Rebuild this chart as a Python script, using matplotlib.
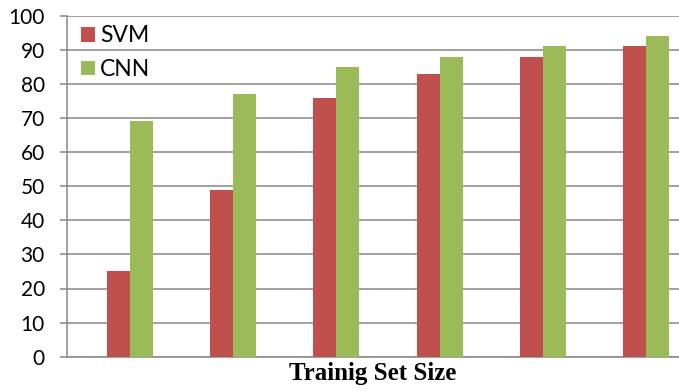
import matplotlib
matplotlib.use("Agg")
import matplotlib.pyplot as plt
import numpy as np

# Accuracy by training-set size
groups = ["1", "2", "3", "4", "5", "6"]
svm = [25, 49, 76, 83, 88, 91]
cnn = [69, 77, 85, 88, 91, 94]
series_names = ["SVM", "CNN"]
yticks = [0, 10, 20, 30, 40, 50, 60, 70, 80, 90, 100]

W, H = 679, 391
fig = plt.figure(figsize=(W / 100, H / 100), dpi=100)
ax = fig.add_axes([67 / W, (H - 356.7) / H, (679 - 67) / W, (356.7 - 15.7) / H])

grid_col = "#878787"
x = np.arange(len(groups))
bw = 0.223
ax.bar(x - bw / 2, svm, bw, color="#C0504D", label=series_names[0], zorder=3)
ax.bar(x + bw / 2, cnn, bw, color="#9BBB59", label=series_names[1], zorder=3)

ax.set_xlim(-0.61, 5.32)
ax.set_ylim(0, 100)
ax.set_yticks(yticks)
ax.set_xticks([])
ax.yaxis.grid(True, color=grid_col, linewidth=1.1, zorder=0)
ax.set_axisbelow(True)

for s in ["top", "right"]:
    ax.spines[s].set_visible(False)
for s in ["left", "bottom"]:
    ax.spines[s].set_color(grid_col)
    ax.spines[s].set_linewidth(1.1)

ax.tick_params(axis="y", length=5, width=1.1, color=grid_col, pad=11,
               labelsize=15, labelcolor="black")
for lbl in ax.get_yticklabels():
    lbl.set_family("Lato")

ax.set_xlabel("Trainig Set Size", family="Liberation Serif", fontweight="bold",
              fontsize=18, labelpad=4)

leg = ax.legend(loc="upper left", bbox_to_anchor=(0.0, 1.012), frameon=False,
                prop={"family": "Lato", "size": 16.5}, handlelength=0.6,
                handleheight=0.6, handletextpad=0.25, labelspacing=0.55,
                borderaxespad=0.2)

fig.savefig("out.png", dpi=100)
